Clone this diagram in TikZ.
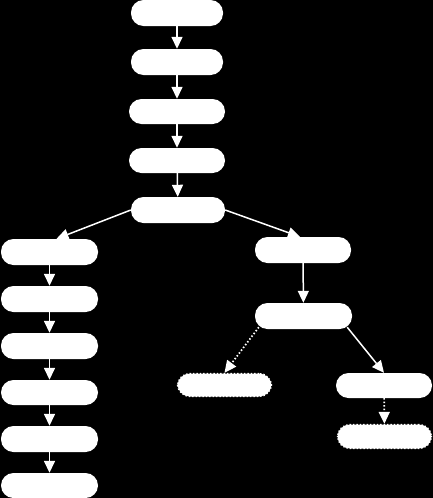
\documentclass[tikz,border=0pt]{standalone}
\usetikzlibrary{arrows.meta}
\begin{document}
\begin{tikzpicture}[x=1pt,y=-1pt,
  box/.style={fill=white,draw=none,rounded corners=12.5pt,minimum width=94pt,minimum height=26pt,inner sep=0pt},
  dbox/.style={box,draw=white,line width=1.4pt,dotted},
  conn/.style={draw=white,line width=1.5pt,-{Triangle[length=12pt,width=11pt]}},
  dconn/.style={conn,dotted,line width=1.7pt}]
\fill[black] (0,0) rectangle (433,498);
\useasboundingbox (0,0) rectangle (433,498);
% top column
\node[box,minimum width=92pt] (n1) at (177,13) {};
\node[box,minimum width=92pt] (n2) at (177,62) {};
\node[box,minimum width=96pt,minimum height=25pt] (n3) at (177,111.5) {};
\node[box,minimum width=96pt,minimum height=25pt] (n4) at (177,160.5) {};
\node[box] (n5) at (178,210) {};
% left column
\node[box,minimum width=97pt] (l1) at (49.5,252) {};
\node[box,minimum width=97pt] (l2) at (49.5,299) {};
\node[box,minimum width=97pt] (l3) at (49.5,346) {};
\node[box,minimum width=97pt,minimum height=25pt] (l4) at (49.5,392.5) {};
\node[box,minimum width=97pt] (l5) at (49.5,439) {};
\node[box,minimum width=97pt,minimum height=25pt] (l6) at (49.5,485.5) {};
% right side
\node[box,minimum width=96pt] (r1) at (303,250) {};
\node[box,minimum width=97pt] (r2) at (303.5,316) {};
\node[dbox,minimum width=94pt,minimum height=23pt] (d1) at (224.5,385) {};
\node[box,minimum width=96pt,minimum height=25pt] (r3) at (384,385.5) {};
\node[dbox,minimum width=94pt,minimum height=24pt] (d2) at (384.5,436.5) {};
% connectors
\draw[conn] (n1) -- (n2);
\draw[conn] (n2) -- (n3);
\draw[conn] (n3) -- (n4);
\draw[conn] (n4) -- (n5);
\draw[conn] (n5.west) -- ([xshift=7pt]l1.north);
\draw[conn] (n5.east) -- ([xshift=-3pt]r1.north);
\draw[conn] (l1) -- (l2);
\draw[conn] (l2) -- (l3);
\draw[conn] (l3) -- (l4);
\draw[conn] (l4) -- (l5);
\draw[conn] (l5) -- (l6);
\draw[conn] (r1) -- (r2);
\draw[dconn] ([xshift=4pt,yshift=2pt]r2.south west) -- (d1.north);
\draw[conn] ([xshift=-5pt,yshift=2pt]r2.south east) -- (r3.north);
\draw[dconn] (r3) -- (d2);
\end{tikzpicture}
\end{document}
